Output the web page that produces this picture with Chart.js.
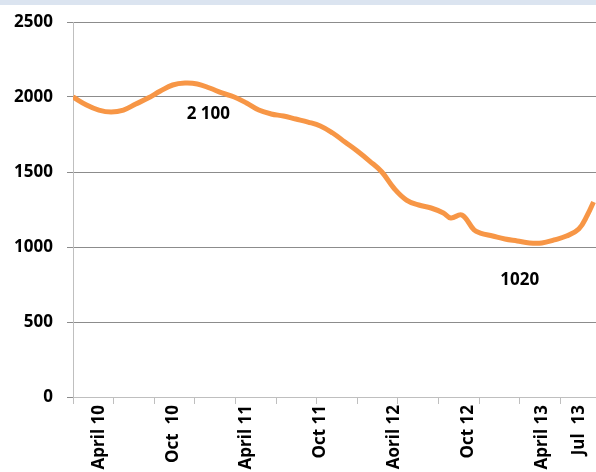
<!DOCTYPE html>
<html>
<head>
<meta charset="utf-8">
<script src="https://cdn.jsdelivr.net/npm/chart.js@4"></script>
<style>
  body { margin: 0; background: #fff; overflow: hidden; }
  #band { height: 5px; background: #dbe4f0; }
  #wrap { position: relative; width: 596px; height: 467px; }
</style>
</head>
<body>
<div id="band"></div>
<div id="wrap"><canvas id="lineChart"></canvas></div>
<script>
// months counted from April 2010 (= 0)
var months = [-2.1, -1, 0, 1, 2, 3, 4, 5, 6, 7, 8, 9, 10, 11, 12, 13, 14, 15, 16, 17, 18,
  19, 20, 21, 22, 23, 24, 25, 26, 27, 28, 28.6, 29.5, 30.5, 31, 32, 33, 34, 35, 36, 37, 38, 39, 39.7, 40.2];
var values = [2000, 1947, 1913, 1900, 1913, 1953, 1993, 2040, 2080, 2093, 2087, 2060, 2027, 2000, 1960,
  1913, 1887, 1873, 1853, 1833, 1807, 1760, 1700, 1640, 1573, 1500, 1390, 1313, 1280, 1260, 1227,
  1193, 1213, 1113, 1093, 1073, 1053, 1040, 1027, 1027, 1047, 1073, 1120, 1213, 1300];

// axis labels
var labelMonths = [0, 6, 12, 18, 24, 30, 36, 39];
var labelTexts = ['April 10', 'Oct  10', 'April 11', 'Oct 11', 'Aoril 12', 'Oct 12', 'April 13', 'Jul  13'];
var yTicks = [0, 500, 1000, 1500, 2000, 2500];

// value notes written on the chart
var noteTexts = ['2 100', '1020'];
var noteMonths = [8.9, 34.2];
var noteValues = [1887, 780];

var xMin = -2.1, xMax = 40.4, markStep = 3.3;
var font = { family: "'Open Sans', sans-serif", size: 17, weight: 'bold' };

var notesPlugin = {
  id: 'notes',
  afterDatasetsDraw: function(chart) {
    var ctx = chart.ctx;
    ctx.save();
    ctx.font = 'bold 17px "Open Sans", sans-serif';
    ctx.fillStyle = '#000';
    ctx.textAlign = 'center';
    ctx.textBaseline = 'middle';
    for (var i = 0; i < noteTexts.length; i++) {
      ctx.fillText(noteTexts[i], chart.scales.x.getPixelForValue(noteMonths[i]),
        chart.scales.y.getPixelForValue(noteValues[i]));
    }
    ctx.restore();
  }
};

var points = months.map(function(m, i) { return { x: m, y: values[i] }; });

new Chart(document.getElementById('lineChart'), {
  type: 'line',
  data: {
    datasets: [{
      data: points,
      borderColor: '#f79646',
      borderWidth: 5,
      tension: 0.4,
      pointRadius: 0,
      fill: false
    }]
  },
  options: {
    responsive: true,
    maintainAspectRatio: false,
    animation: false,
    layout: { padding: { top: 17, right: 0, left: 0, bottom: 0 } },
    plugins: { legend: { display: false }, tooltip: { enabled: false } },
    scales: {
      x: {
        type: 'linear',
        position: 'bottom',
        weight: 0,
        min: xMin,
        max: xMax,
        afterBuildTicks: function(scale) {
          var t = [];
          for (var v = xMin; v <= xMax + 0.001; v += markStep) t.push({ value: v });
          scale.ticks = t;
        },
        ticks: { display: false },
        grid: { drawOnChartArea: false, drawTicks: true, tickLength: 7, color: '#bfbfbf' },
        border: { color: '#bfbfbf' }
      },
      xLabels: {
        type: 'linear',
        position: 'bottom',
        weight: 1,
        min: xMin,
        max: xMax,
        afterBuildTicks: function(scale) {
          scale.ticks = labelMonths.map(function(m) { return { value: m }; });
        },
        afterFit: function(scale) {
          scale.height = 68;
          scale.paddingLeft = 0;
          scale.paddingRight = 0;
        },
        ticks: {
          autoSkip: false,
          minRotation: 90,
          maxRotation: 90,
          padding: 1,
          color: '#000',
          font: font,
          callback: function(v) { return labelTexts[labelMonths.indexOf(v)]; }
        },
        grid: { display: false, drawTicks: false },
        border: { display: false }
      },
      y: {
        min: 0,
        max: 2500,
        afterBuildTicks: function(scale) {
          scale.ticks = yTicks.map(function(v) { return { value: v }; });
        },
        afterFit: function(scale) {
          scale.width = 73;
          scale.paddingTop = 0;
          scale.paddingBottom = 0;
        },
        ticks: {
          color: '#000',
          font: font,
          padding: 14,
          callback: function(v) { return String(v); }
        },
        grid: { color: '#8c8c8c', tickLength: 6 },
        border: { color: '#bfbfbf' }
      }
    }
  },
  plugins: [notesPlugin]
});
</script>
</body>
</html>
